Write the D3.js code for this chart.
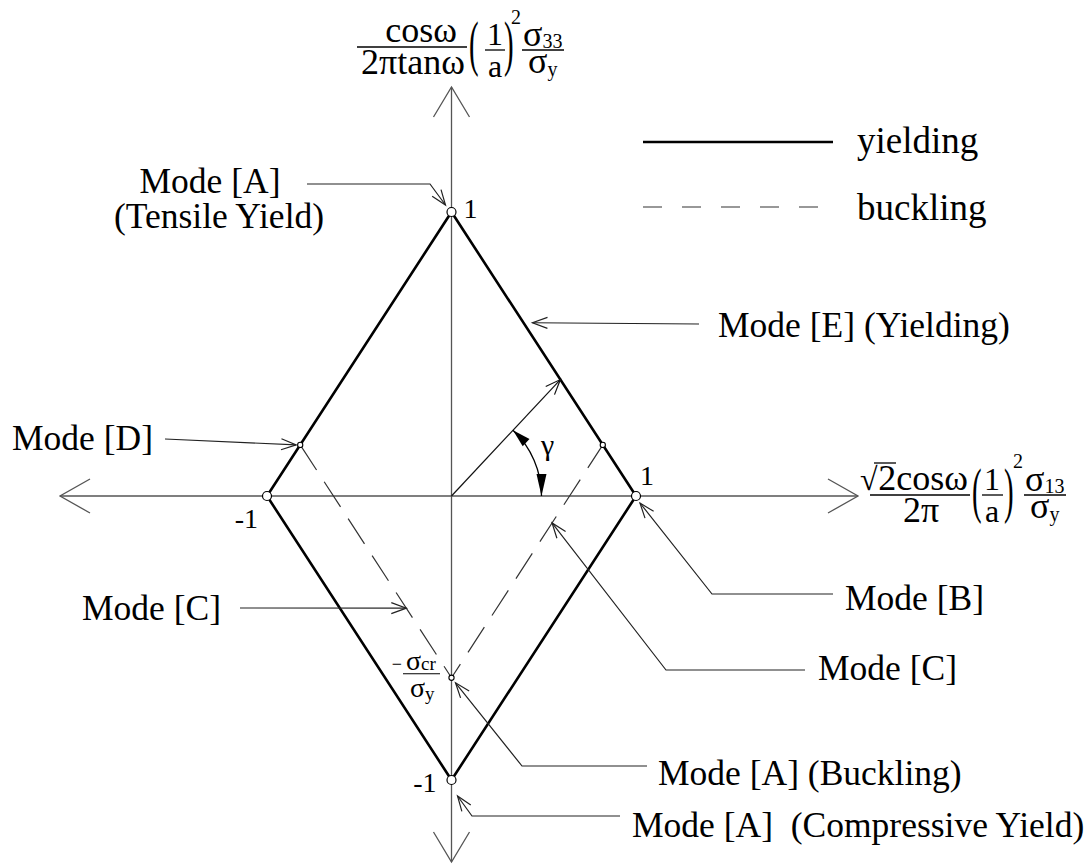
<!DOCTYPE html>
<html>
<head>
<meta charset="utf-8">
<script src="https://cdn.jsdelivr.net/npm/d3@7"></script>
<style>
  html, body { margin: 0; padding: 0; background: #fff; }
  svg { display: block; }
  svg text { font-family: "Liberation Serif", "Tinos", "Times New Roman", "DejaVu Serif", serif; }
</style>
</head>
<body>
<svg id="chart" width="1091" height="864"></svg>
<script>
// Yield surface corners (normalised shear, normalised axial stress)
const yieldShear = [1, 0, -1, 0, 1];
const yieldAxial = [0, 1, 0, -1, 0];
// Buckling cut-off, crossing the axial axis at -σcr/σy
const sigmaCrRatio = 0.64;
const bucklingShear = [-0.82, 0, 0.82];
const bucklingAxial = [0.18, -0.64, 0.18];
// Loading direction vector (angle γ from the shear axis)
const loadShear = [0, 0.59];
const loadAxial = [0, 0.41];
// Axis tick labels
const tickAxis = ["y", "x", "x", "y"];
const tickValues = [1, 1, -1, -1];
const tickLabels = ["1", "1", "-1", "-1"];
// Legend entries
const legendLabels = ["yielding", "buckling"];
// Failure mode annotations and the points they refer to
const modeLabels = ["Mode [A]", "Mode [E] (Yielding)", "Mode [D]", "Mode [C]",
                    "Mode [B]", "Mode [C]", "Mode [A] (Buckling)", "Mode [A]  (Compressive Yield)"];
const modeShear = [0, 0.39, -0.82, -0.245, 1, 0.545, 0, 0];
const modeAxial = [1, 0.61, 0.18, -0.395, 0, -0.095, -0.64, -1];

const svg = d3.select("#chart");

const x = d3.scaleLinear().domain([-1, 1]).range([267, 636]);
const y = d3.scaleLinear().domain([-1, 1]).range([780, 212]);
const ox = x(0), oy = y(0);

// open "V" arrowhead at tip, pointing away from `from`
function openArrow(g, tip, from, len, half, color, width) {
  const dx = tip[0] - from[0], dy = tip[1] - from[1];
  const L = Math.hypot(dx, dy), ux = dx / L, uy = dy / L;
  const bx = tip[0] - ux * len, by = tip[1] - uy * len;
  const p1 = [bx - uy * half, by + ux * half];
  const p2 = [bx + uy * half, by - ux * half];
  g.append("path")
    .attr("d", `M${p1[0]},${p1[1]}L${tip[0]},${tip[1]}L${p2[0]},${p2[1]}`)
    .attr("fill", "none").attr("stroke", color).attr("stroke-width", width);
}
function filledArrow(g, tip, dir, len, half) {
  const L = Math.hypot(dir[0], dir[1]), ux = dir[0] / L, uy = dir[1] / L;
  const bx = tip[0] - ux * len, by = tip[1] - uy * len;
  g.append("path")
    .attr("d", `M${tip[0]},${tip[1]}L${bx - uy * half},${by + ux * half}L${bx + uy * half},${by - ux * half}Z`)
    .attr("fill", "#000");
}
function txt(g, s, px, py, size, anchor) {
  return g.append("text").attr("x", px).attr("y", py)
    .attr("font-size", size)
    .attr("text-anchor", anchor || "start").attr("fill", "#000").text(s);
}

// ---- axes ----
const axes = svg.append("g");
const AX = "#555";
axes.append("line").attr("x1", 60).attr("y1", oy).attr("x2", 858).attr("y2", oy)
  .attr("stroke", AX).attr("stroke-width", 1.3);
axes.append("line").attr("x1", ox).attr("y1", 87).attr("x2", ox).attr("y2", 862)
  .attr("stroke", AX).attr("stroke-width", 1.3);
openArrow(axes, [858, oy], [0, oy], 30, 17, AX, 1.3);
openArrow(axes, [60, oy], [1000, oy], 30, 17, AX, 1.3);
openArrow(axes, [ox, 87], [ox, 800], 30, 18, AX, 1.3);
openArrow(axes, [ox, 862], [ox, 0], 30, 18, AX, 1.3);

// ---- buckling cut-off (dashed) ----
const line = d3.line().x(d => x(d[0])).y(d => y(d[1]));
svg.append("path")
  .datum(bucklingShear.map((v, i) => [v, bucklingAxial[i]]))
  .attr("d", line)
  .attr("fill", "none").attr("stroke", "#333").attr("stroke-width", 1.2)
  .attr("stroke-dasharray", "30,14");

// ---- yield surface (solid diamond) ----
svg.append("path")
  .datum(yieldShear.map((v, i) => [v, yieldAxial[i]]))
  .attr("d", line)
  .attr("fill", "none").attr("stroke", "#000").attr("stroke-width", 2.6)
  .attr("stroke-linejoin", "miter");

// ---- loading vector and angle γ ----
const vec = svg.append("g");
const vTip = [x(loadShear[1]), y(loadAxial[1])];
vec.append("line").attr("x1", x(loadShear[0])).attr("y1", y(loadAxial[0]))
  .attr("x2", vTip[0]).attr("y2", vTip[1]).attr("stroke", "#111").attr("stroke-width", 1.2);
openArrow(vec, vTip, [ox, oy], 15, 6, "#111", 1.2);

const gammaAng = Math.atan2(oy - vTip[1], vTip[0] - ox);
const R = 90;
const a0 = gammaAng, a1 = 0.0;
const pA = [ox + R * Math.cos(a0), oy - R * Math.sin(a0)];
const pB = [ox + R * Math.cos(a1), oy - R * Math.sin(a1)];
vec.append("path")
  .attr("d", `M${pA[0]},${pA[1]}A${R},${R} 0 0 1 ${pB[0]},${pB[1]}`)
  .attr("fill", "none").attr("stroke", "#000").attr("stroke-width", 1.3);
filledArrow(vec, pA, [-Math.sin(a0), -Math.cos(a0)], 18, 5);
filledArrow(vec, pB, [0, 1], 22, 5);
txt(vec, "γ", 541, 455, 30);

// ---- marker circles ----
const marks = svg.append("g");
yieldShear.slice(0, 4).forEach((v, i) => {
  marks.append("circle").attr("cx", x(v)).attr("cy", y(yieldAxial[i])).attr("r", 4.5)
    .attr("fill", "#fff").attr("stroke", "#000").attr("stroke-width", 1.2);
});
bucklingShear.forEach((v, i) => {
  marks.append("circle").attr("cx", x(v)).attr("cy", y(bucklingAxial[i])).attr("r", 2.6)
    .attr("fill", "#fff").attr("stroke", "#000").attr("stroke-width", 1.1);
});

// ---- tick labels ----
const ticks = svg.append("g");
const tickPos = [[12, 6, "start"], [4, -11, "start"], [-9, 32, "end"], [-15, 12, "end"]];
tickLabels.forEach((s, i) => {
  const px = tickAxis[i] === "x" ? x(tickValues[i]) : ox;
  const py = tickAxis[i] === "y" ? y(tickValues[i]) : oy;
  txt(ticks, s, px + tickPos[i][0], py + tickPos[i][1], 28, tickPos[i][2]);
});

// -σcr/σy label on the axial axis
const scr = svg.append("g");
const crY = y(-sigmaCrRatio);
txt(scr, "−", 402, crY - 8, 18, "end");
scr.append("line").attr("x1", 403).attr("x2", 440).attr("y1", crY - 4).attr("y2", crY - 4)
  .attr("stroke", "#000").attr("stroke-width", 1.1);
const t1 = txt(scr, "σ", 406, crY - 8, 28);
t1.append("tspan").attr("font-size", 19).text("cr");
const t2 = txt(scr, "σ", 410, crY + 19, 28);
t2.append("tspan").attr("font-size", 19).attr("dy", 3).text("y");

// ---- axis titles ----
function frac(g, num, den, cx, barY, x0, x1, size, numX) {
  g.append("line").attr("x1", x0).attr("x2", x1).attr("y1", barY).attr("y2", barY)
    .attr("stroke", "#000").attr("stroke-width", 1.3);
  if (num) txt(g, num, numX || cx, barY - 5, size, "middle");
  txt(g, den, cx, barY + 27, size, "middle");
}
function paren(g, s, px, baseY) {
  g.append("text").attr("font-size", 36)
    .attr("transform", `translate(${px},${baseY}) scale(0.8,1.7)`).text(s);
}
function sigmaFrac(g, sub, px, barY) {
  g.append("line").attr("x1", px - 1).attr("x2", px + 41).attr("y1", barY).attr("y2", barY)
    .attr("stroke", "#000").attr("stroke-width", 1.3);
  const a = txt(g, "σ", px, barY - 4, 36);
  a.append("tspan").attr("font-size", 20).attr("dy", 2).text(sub);
  const b = txt(g, "σ", px + 5, barY + 23, 36);
  b.append("tspan").attr("font-size", 20).attr("dy", 3).text("y");
}
// vertical axis title
const yt = svg.append("g");
frac(yt, "cosω", "2πtanω", 413, 47, 357, 467, 36, 421);
paren(yt, "(", 469, 64);
frac(yt, "1", "a", 495, 50, 485, 505, 32);
paren(yt, ")", 504, 64);
txt(yt, "2", 511, 24, 20);
sigmaFrac(yt, "33", 523, 50);

// horizontal axis title
const xt = svg.append("g");
xt.append("line").attr("x1", 874).attr("x2", 896).attr("y1", 463).attr("y2", 463)
  .attr("stroke", "#000").attr("stroke-width", 1.3);
txt(xt, "√", 860, 490, 32);
frac(xt, "", "2π", 921, 495, 870, 970, 36);
txt(xt, "2cosω", 923, 490, 36, "middle");
paren(xt, "(", 972, 511);
frac(xt, "1", "a", 992, 495, 982, 1003, 32);
paren(xt, ")", 1004, 511);
txt(xt, "2", 1013, 468, 20);
sigmaFrac(xt, "13", 1025, 495);

// ---- legend ----
const leg = svg.append("g");
leg.append("line").attr("x1", 643).attr("x2", 833).attr("y1", 142).attr("y2", 142)
  .attr("stroke", "#000").attr("stroke-width", 2.5);
leg.append("line").attr("x1", 643).attr("x2", 823).attr("y1", 207).attr("y2", 207)
  .attr("stroke", "#777").attr("stroke-width", 1.5).attr("stroke-dasharray", "19,20");
txt(leg, legendLabels[0], 857, 153, 37);
txt(leg, legendLabels[1], 857, 220, 37);

// ---- mode annotations ----
// per label: text anchor position, leader waypoints (px) and arrow-tip offset from the target
const modeLayout = [
  { tx: 210, ty: 193, anchor: "middle", path: [[307, 184], [430, 184]], off: [-6, -7] },
  { tx: 718, ty: 337, anchor: "start", path: [[699, 324]], off: [9, 0] },
  { tx: 12, ty: 450, anchor: "start", path: [[165, 439]], off: [-4, 0] },
  { tx: 82, ty: 620, anchor: "start", path: [[240, 608]], off: [0, 0] },
  { tx: 845, ty: 610, anchor: "start", path: [[833, 594], [712, 594]], off: [4, 7] },
  { tx: 818, ty: 680, anchor: "start", path: [[805, 670], [666, 670]], off: [0, 0] },
  { tx: 658, ty: 785, anchor: "start", path: [[647, 766], [522, 766]], off: [4, 5] },
  { tx: 632, ty: 837, anchor: "start", path: [[620, 816], [472, 816]], off: [6, 16] }
];
const ann = svg.append("g");
modeLabels.forEach((s, i) => {
  const L = modeLayout[i];
  const tip = [x(modeShear[i]) + L.off[0], y(modeAxial[i]) + L.off[1]];
  const pts = L.path.concat([tip]);
  ann.append("path").attr("d", d3.line()(pts))
    .attr("fill", "none").attr("stroke", "#222").attr("stroke-width", 1.2);
  openArrow(ann, tip, pts[pts.length - 2], 15, 5.5, "#222", 1.2);
  txt(ann, s, L.tx, L.ty, 35.5, L.anchor).attr("xml:space", "preserve");
});
txt(ann, "(Tensile Yield)", 219, 228, 35.5, "middle");
</script>
</body>
</html>
